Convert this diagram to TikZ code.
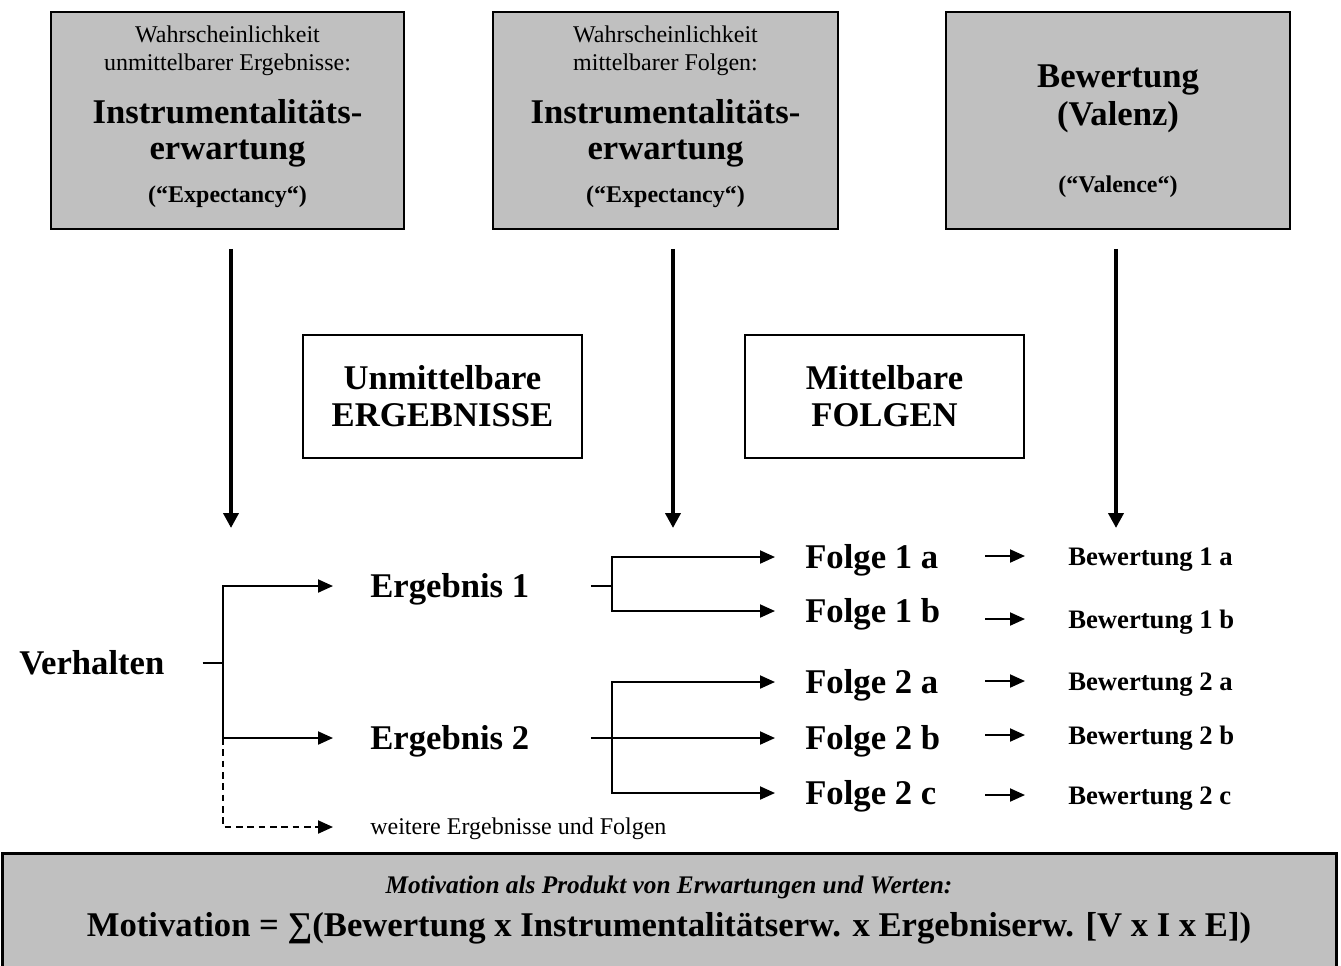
\documentclass[tikz,border=0pt]{standalone}
\usepackage{fontspec}
\setmainfont{Liberation Serif}
\usetikzlibrary{arrows.meta,positioning,calc}
\definecolor{cBox}{HTML}{C0C0C0}
\tikzset{
  graubox/.style={draw,line width=1.2pt,fill=cBox,minimum height=162.75pt},
  weissbox/.style={draw,line width=1pt,minimum width=209.25pt,minimum height=92.25pt,align=center,font=\fontsize{26}{27.75}\selectfont\bfseries},
  gross/.style={inner sep=0pt,anchor=base,font=\fontsize{26}{30}\selectfont\bfseries},
  klein/.style={inner sep=0pt,anchor=base,font=\fontsize{18}{21}\selectfont},
  kleinfett/.style={klein,font=\fontsize{18}{21}\selectfont\bfseries},
  beschr/.style={inner sep=0pt,anchor=west,text height=17.5pt,text depth=0pt,font=\fontsize{26}{30}\selectfont\bfseries},
  bwbeschr/.style={beschr,text height=13.5pt,font=\fontsize{20}{24}\selectfont\bfseries},
  linie/.style={line width=1.5pt},
  pfeil/.style={linie,-{Triangle[length=11.25pt,width=9.75pt]}},
  dickpfeil/.style={line width=3pt,-{Triangle[length=11.25pt,width=11.25pt]}}
}
\begin{document}
\begin{tikzpicture}[x=0.75pt,y=-0.75pt]
  \useasboundingbox (0,0) rectangle (1341,965);
  % obere Kaesten
  \node[graubox,minimum width=264.75pt] (instr1) at (227.5,120.5) {};
  \node[graubox,minimum width=258.75pt] (instr2) at (665.5,120.5) {};
  \node[graubox,minimum width=258pt] (valenz) at (1118,120.5) {};
  \node[klein] (wa1) at (227.5,42) {Wahrscheinlichkeit};
  \node[klein] (wb1) at (227.5,70) {unmittelbarer Ergebnisse:};
  \node[gross] (ia1) at (227.5,123) {Instrumentalitäts-};
  \node[gross] (ib1) at (227.5,159) {erwartung};
  \node[kleinfett] (ex1) at (227.5,202) {(“Expectancy“)};
  \node[klein] (wa2) at (665.5,42) {Wahrscheinlichkeit};
  \node[klein] (wb2) at (665.5,70) {mittelbarer Folgen:};
  \node[gross] (ia2) at (665.5,123) {Instrumentalitäts-};
  \node[gross] (ib2) at (665.5,159) {erwartung};
  \node[kleinfett] (ex2) at (665.5,202) {(“Expectancy“)};
  \node[gross] (bw) at (1118,87) {Bewertung};
  \node[gross] (vz) at (1118,125) {(Valenz)};
  \node[kleinfett] (vc) at (1118,192) {(“Valence“)};
  % Pfeile nach unten
  \coordinate (e1) at (231,528);
  \coordinate (e2) at (673,528);
  \coordinate (e3) at (1116,528);
  \draw[dickpfeil,shorten <=14.25pt] (instr1.south -| e1) -- (e1);
  \draw[dickpfeil,shorten <=14.25pt] (instr2.south -| e2) -- (e2);
  \draw[dickpfeil,shorten <=14.25pt] (valenz.south -| e3) -- (e3);
  \node[weissbox] (ergbox) at (442.5,396.5) {Unmittelbare\\ERGEBNISSE};
  \node[weissbox] (folgbox) at (884.5,396.5) {Mittelbare\\FOLGEN};
  % Verhalten -> Ergebnisse
  \node[beschr] (verh) at (19,663) {Verhalten};
  \node[beschr] (erg1) at (370,586) {Ergebnis 1};
  \node[beschr] (erg2) at (370,738) {Ergebnis 2};
  \node[beschr,text height=11.9pt,font=\fontsize{18}{21}\selectfont] (weiter) at (370,827) {weitere Ergebnisse und Folgen};
  \coordinate (ja) at (223,663);
  \draw[linie,shorten <=28.5pt] (verh.east) -- (ja);
  \draw[pfeil,shorten >=27.75pt] (ja) |- (erg1.west);
  \draw[pfeil,shorten >=27.75pt] (ja) |- (erg2.west);
  \draw[pfeil,dash pattern=on 5pt off 3.5pt,shorten >=27.75pt] (ja |- erg2.west) |- (weiter.west);
  % Ergebnisse -> Folgen
  \node[beschr] (f1a) at (805,557) {Folge 1 a};
  \node[beschr] (f1b) at (805,611) {Folge 1 b};
  \node[beschr] (f2a) at (805,682) {Folge 2 a};
  \node[beschr] (f2b) at (805,738) {Folge 2 b};
  \node[beschr] (f2c) at (805,793) {Folge 2 c};
  \coordinate (jb) at (612,586);
  \coordinate (jc) at (612,738);
  \draw[linie,shorten <=46pt] (erg1.east) -- (jb);
  \draw[pfeil,shorten >=22.5pt] (jb) |- (f1a.west);
  \draw[pfeil,shorten >=22.5pt] (jb) |- (f1b.west);
  \draw[pfeil,shorten <=46pt,shorten >=22.5pt] (erg2.east) -- (f2b.west);
  \draw[pfeil,shorten >=22.5pt] (jc) |- (f2a.west);
  \draw[pfeil,shorten >=22.5pt] (jc) |- (f2c.west);
  % Folgen -> Bewertungen
  \node[bwbeschr] (b1a) at (1068,556) {Bewertung 1 a};
  \node[bwbeschr] (b1b) at (1068,619) {Bewertung 1 b};
  \node[bwbeschr] (b2a) at (1068,681) {Bewertung 2 a};
  \node[bwbeschr] (b2b) at (1068,735) {Bewertung 2 b};
  \node[bwbeschr] (b2c) at (1068,795) {Bewertung 2 c};
  \coordinate (sp) at (985,0);
  \foreach \b in {b1a,b1b,b2a,b2b,b2c}
    \draw[pfeil,shorten >=32.25pt] (\b.west -| sp) -- (\b.west);
  % Formel
  \node[draw,line width=2.25pt,fill=cBox,minimum width=1000.5pt,minimum height=86.25pt] (motbox) at (669,910.5) {};
  \node[inner sep=0pt,anchor=base,font=\fontsize{19}{22}\selectfont\bfseries\itshape] (motzeile) at (669,893) {Motivation als Produkt von Erwartungen und Werten:};
  \node[gross] (motformel) at (669,936) {Motivation = ∑(Bewertung x Instrumentalitätserw. x Ergebniserw. [V x I x E])};
\end{tikzpicture}
\end{document}
